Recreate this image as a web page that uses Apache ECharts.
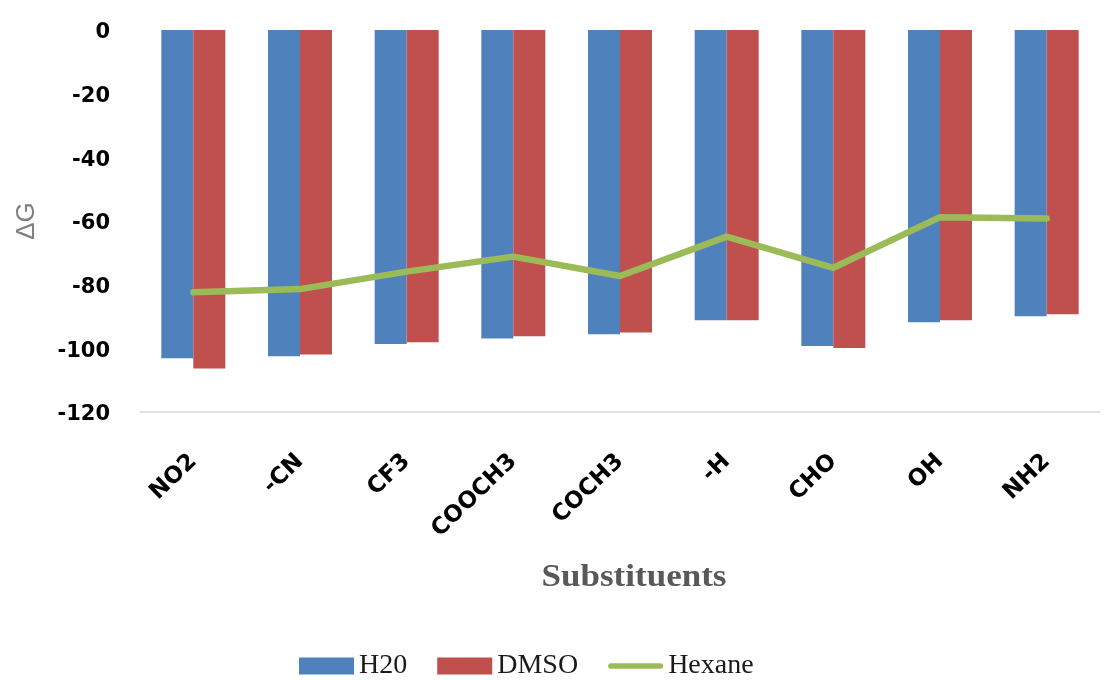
<!DOCTYPE html>
<html>
<head>
<meta charset="utf-8">
<script src="https://cdn.jsdelivr.net/npm/echarts@6/dist/echarts.min.js"></script>
<style>
  html, body { margin: 0; padding: 0; background: #fff; }
  #chart { width: 1113px; height: 680px; }
</style>
</head>
<body>
<div id="chart"></div>
<script>
// Substituent groups along the x axis
const categories = ['NO2', '-CN', 'CF3', 'COOCH3', 'COCH3', '-H', 'CHO', 'OH', 'NH2'];

// ΔG per solvent
const h2oValues    = [-103.1, -102.5, -98.6, -96.9, -95.6, -91.2, -99.3, -91.8, -89.9];
const dmsoValues   = [-106.3, -101.9, -98.1, -96.2, -95.0, -91.2, -99.9, -91.2, -89.3];
const hexaneValues = [-82.4, -81.4, -75.9, -71.2, -77.3, -64.9, -74.7, -58.8, -59.2];

// Value axis ticks
const yMin = -120;
const yMax = 0;
const yStep = 20;

// Rounded bar used as the legend key of the line series
const lineKey = 'path://M3,0 L59,0 A3,3 0 0 1 59,6 L3,6 A3,3 0 0 1 3,0 Z';

const chart = echarts.init(document.getElementById('chart'), null, { renderer: 'canvas' });

chart.setOption({
  animation: false,
  backgroundColor: '#ffffff',
  grid: { left: 140, right: 13, top: 30, bottom: 268, containLabel: false },
  legend: {
    left: 299,
    top: 652,
    padding: 0,
    itemWidth: 55,
    itemHeight: 17,
    itemGap: 30,
    textStyle: { fontFamily: 'Liberation Serif', fontSize: 28, color: '#1a1a1a' },
    data: [
      { name: 'H20', icon: 'rect' },
      { name: 'DMSO', icon: 'rect' },
      { name: 'Hexane', icon: lineKey, itemStyle: { color: '#9bbb59' } }
    ]
  },
  xAxis: {
    type: 'category',
    data: categories,
    axisLine: { show: true, onZero: false, lineStyle: { color: '#d9d9d9', width: 1.5 } },
    axisTick: { show: false },
    axisLabel: {
      interval: 0,
      rotate: 44,
      margin: 46,
      fontFamily: 'DejaVu Sans',
      fontWeight: 'bold',
      fontSize: 23,
      color: '#000'
    },
    splitLine: { show: false }
  },
  yAxis: {
    type: 'value',
    min: yMin,
    max: yMax,
    interval: yStep,
    name: 'ΔG',
    nameLocation: 'middle',
    nameGap: 100,
    nameTextStyle: { fontFamily: 'Liberation Sans', fontSize: 26, color: '#7f7f7f' },
    axisLine: { show: false },
    axisTick: { show: false },
    splitLine: { show: false },
    axisLabel: {
      margin: 30,
      formatter: '{v|{value}}',
      rich: {
        v: {
          fontFamily: 'DejaVu Sans',
          fontWeight: 'bold',
          fontSize: 21,
          color: '#000',
          padding: [6, 0, 0, 0]
        }
      }
    }
  },
  graphic: [
    {
      type: 'text',
      x: 634,
      y: 578,
      scaleX: 1.13,
      style: {
        text: 'Substituents',
        fontFamily: 'Liberation Serif',
        fontWeight: 'bold',
        fontSize: 31,
        fill: '#595959',
        align: 'center',
        verticalAlign: 'middle'
      }
    }
  ],
  series: [
    {
      name: 'H20',
      type: 'bar',
      data: h2oValues,
      barWidth: 32,
      barGap: '0%',
      itemStyle: { color: '#4f81bd' }
    },
    {
      name: 'DMSO',
      type: 'bar',
      data: dmsoValues,
      barWidth: 32,
      barGap: '0%',
      itemStyle: { color: '#c0504d' }
    },
    {
      name: 'Hexane',
      type: 'line',
      data: hexaneValues,
      symbol: 'none',
      z: 5,
      itemStyle: { color: '#9bbb59' },
      lineStyle: { color: '#9bbb59', width: 6.5, cap: 'round', join: 'round' }
    }
  ]
});
</script>
</body>
</html>
